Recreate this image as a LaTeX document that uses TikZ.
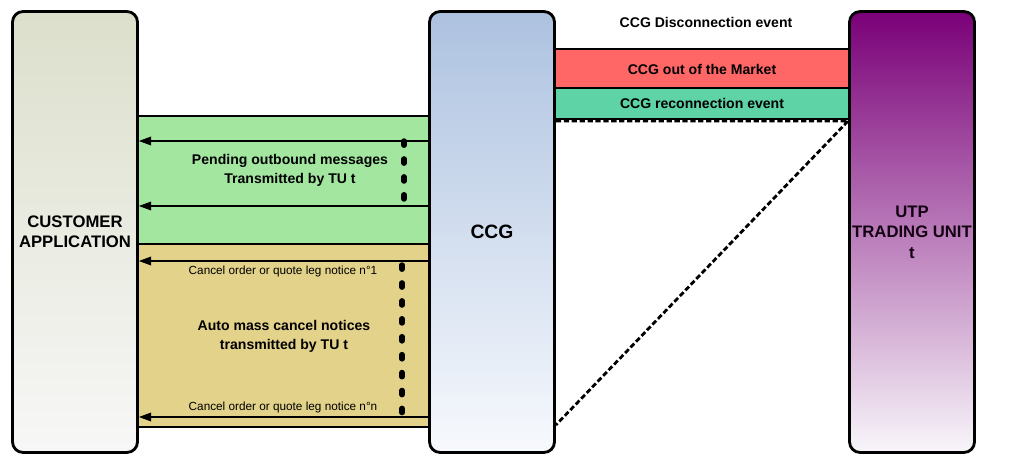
\documentclass[tikz,border=0pt]{standalone}
\usepackage{fontspec}
\setmainfont{Liberation Sans}
\usetikzlibrary{calc}
\usetikzlibrary{arrows.meta}
\usepackage{xcolor}
\definecolor{custtop}{HTML}{DCDFCB}
\definecolor{custbot}{HTML}{F7F7F7}
\definecolor{ccgtop}{HTML}{ADC2E0}
\definecolor{ccgbot}{HTML}{F7F9FD}
\definecolor{utptop}{HTML}{7A0078}
\definecolor{utpbot}{HTML}{F8F6FA}
\definecolor{pendgreen}{HTML}{A2E6A0}
\definecolor{canceltan}{HTML}{E2D28A}
\definecolor{outred}{HTML}{FF6666}
\definecolor{reconteal}{HTML}{5ED3A6}

\begin{document}
\begin{tikzpicture}[x=.02cm, y=-.02cm,
  lane/.style={draw, line width=1.6pt, rounded corners=6pt, minimum width=2.5cm,
    minimum height=8.82cm, inner sep=0pt, align=center,
    font=\bfseries\fontsize{9.5}{11.6}\selectfont},
  band/.style={draw, line width=1.6pt},
  note/.style={font=\bfseries\fontsize{8}{10.8}\selectfont, align=center},
  small/.style={font=\fontsize{6.7}{8}\selectfont},
  msg/.style={-{Triangle[length=7pt,width=5pt]}, line width=.6pt},
  dots/.style={line width=3.1pt, line cap=round, dash pattern=on 2.4pt off 7.8pt},
  link/.style={line width=1.6pt, dash pattern=on 3pt off 1.5pt}]
\useasboundingbox (0,0) rectangle (1017,470);

% bands between the lanes
\fill[pendgreen] (138,116) rectangle (430,244);
\fill[canceltan] (138,244) rectangle (430,427);
\draw[band] (138,116) -- (430,116);
\draw[band] (138,244) -- (430,244);
\draw[band] (138,427) -- (430,427);
\draw[band, fill=outred] (555,49) rectangle (849,88);
\draw[band, fill=reconteal] (555,88) rectangle (849,119);

% the three lanes
\node[lane, top color=custtop, bottom color=custbot] (cust) at (75,232) {CUSTOMER\\APPLICATION};
\node[lane, top color=ccgtop, bottom color=ccgbot, font=\bfseries\fontsize{11}{13}\selectfont] (ccg) at (492,232) {CCG};
\node[lane, top color=utptop, bottom color=utpbot, text=black!85!utptop] (utp) at (912,232) {UTP\\TRADING UNIT\\t};

% messages to the customer
\foreach \y in {141,206,261,417} {
  \draw[msg] (ccg.west |- 0,\y) -- (cust.east |- 0,\y);
}
\draw[dots] (404,141) -- (404,200);
\draw[dots] (402,265) -- (402,413);

% disconnection / reconnection
\draw[link] (ccg.east |- 0,121) -- (utp.west |- 0,121) -- (ccg.east |- 0,425);

\node[note] (disc) at (706,22) {CCG Disconnection event};
\node[note] (out) at (702,69) {CCG out of the Market};
\node[note] (recon) at (702,103) {CCG reconnection event};
\node[note] (pend) at (290,170) {Pending outbound messages\\Transmitted by TU t};
\node[note] (auto) at (284,336) {Auto mass cancel notices\\transmitted by TU t};
\node[small] (first) at (283,271) {Cancel order or quote leg notice n°1};
\node[small] (last) at (283,407) {Cancel order or quote leg notice n°n};
\end{tikzpicture}
\end{document}
